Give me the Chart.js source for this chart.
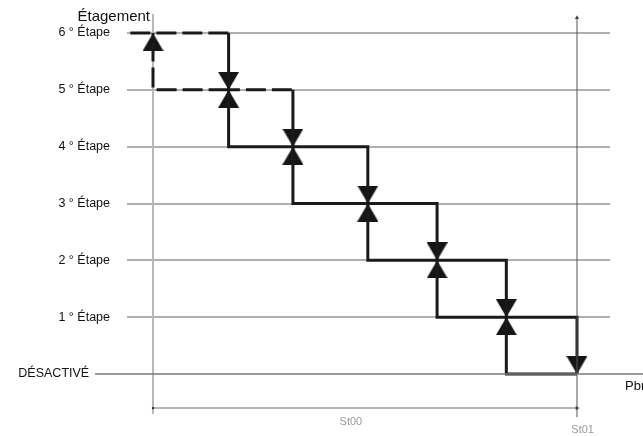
<!DOCTYPE html>
<html>
<head>
<meta charset="utf-8">
<script src="https://cdn.jsdelivr.net/npm/chart.js@4.4.0/dist/chart.umd.min.js"></script>
<style>
    html, body { margin: 0; padding: 0; background: #fff; }
    #wrap { width: 643px; height: 436px; }
</style>
</head>
<body>
<div id="wrap"><canvas id="Graph" width="643" height="436"></canvas></div>
<script>
// stage levels, bottom to top
const stepLabels = ['DÉSACTIVÉ', '1 ° Étape', '2 ° Étape', '3 ° Étape', '4 ° Étape', '5 ° Étape', '6 ° Étape'];
// pressure where each stage switches, from St00 (0) to St01 (6)
const switchPoints = [0, 1.07, 1.98, 3.04, 4.02, 5.0, 6.0];
const dashedStart = -0.32;
const axisTitle = 'Étagement';
const pressureTitle = 'Pbr';
const spanLabels = ['St00', 'St01'];

const FONT = '"Liberation Sans", Arial, sans-serif';
const topLevel = stepLabels.length - 1;

// stage going down as pressure rises
const downPath = [{ x: dashedStart, y: topLevel }];
for (let i = 1; i < switchPoints.length; i++) {
    downPath.push({ x: switchPoints[i], y: topLevel + 1 - i });
    downPath.push({ x: switchPoints[i], y: topLevel - i });
}
// stage going up as pressure drops
const upPath = [{ x: switchPoints[switchPoints.length - 1], y: 0 }];
for (let i = switchPoints.length - 2; i >= 0; i--) {
    upPath.push({ x: switchPoints[i], y: topLevel - 1 - i });
    upPath.push({ x: switchPoints[i], y: topLevel - i });
}
const downArrows = [];
const upArrows = [];
for (let i = 1; i < switchPoints.length; i++) {
    downArrows.push({ x: switchPoints[i], y: topLevel - i });
    upArrows.push({ x: switchPoints[i - 1], y: topLevel + 1 - i });
}

// arrow heads with the tip in the middle of the image
function makeArrow(down) {
    const w = 21, h = 18;
    const c = document.createElement('canvas');
    c.width = w;
    c.height = h * 2;
    const g = c.getContext('2d');
    g.fillStyle = '#151515';
    g.beginPath();
    if (down) {
        g.moveTo(0, 0); g.lineTo(w, 0); g.lineTo(w / 2, h);
    } else {
        g.moveTo(w / 2, h); g.lineTo(w, 2 * h); g.lineTo(0, 2 * h);
    }
    g.closePath();
    g.fill();
    return c;
}

const dashed = c => (c.p0.parsed.y >= topLevel - 1 && c.p1.parsed.y >= topLevel - 1) ? [20, 6] : undefined;

const textPlugin = {
    id: 'texts',
    afterDraw(chart) {
        const { ctx, scales: { x, y } } = chart;
        ctx.save();
        ctx.fillStyle = '#111';
        ctx.font = '15px ' + FONT;
        ctx.textAlign = 'right';
        ctx.fillText(axisTitle, x.getPixelForValue(0) - 3, y.getPixelForValue(topLevel) - 12);
        ctx.font = '13px ' + FONT;
        ctx.textAlign = 'left';
        ctx.fillText(pressureTitle, x.getPixelForValue(6) + 48, y.getPixelForValue(0) + 16);
        ctx.fillStyle = '#999';
        ctx.font = '11px ' + FONT;
        ctx.textAlign = 'center';
        ctx.fillText(spanLabels[0], x.getPixelForValue(2.8), y.bottom + 12);
        ctx.fillText(spanLabels[1], x.getPixelForValue(6.08), y.bottom + 20);
        ctx.restore();
    }
};

const ctx = document.getElementById('Graph').getContext('2d');
new Chart(ctx, {
    type: 'line',
    data: {
        datasets: [
            { // base line (DÉSACTIVÉ)
                data: [{ x: -0.82, y: 0 }, { x: 6.95, y: 0 }],
                borderColor: '#777', borderWidth: 1.5, pointRadius: 0, clip: false
            },
            { // St01 limit
                data: [{ x: 6, y: -0.76 }, { x: 6, y: 6.27 }],
                borderColor: '#555', borderWidth: 1, clip: false,
                pointRadius: [0, 2.5], pointStyle: 'triangle',
                pointBackgroundColor: '#444', pointBorderWidth: 0
            },
            { // St00 -> St01 span
                data: [{ x: 0, y: -0.6 }, { x: 6, y: -0.6 }],
                borderColor: '#b5b5b5', borderWidth: 2, clip: false,
                pointRadius: [1.5, 2.5], pointStyle: ['rect', 'triangle'], rotation: [0, 90],
                pointBackgroundColor: '#333', pointBorderWidth: 0
            },
            {
                data: downPath, clip: false,
                borderColor: '#1a1a1a', borderWidth: 3, pointRadius: 0,
                borderJoinStyle: 'miter', segment: { borderDash: dashed }
            },
            {
                data: upPath, clip: false,
                borderColor: '#1a1a1a', borderWidth: 3, pointRadius: 0,
                borderJoinStyle: 'miter', segment: { borderDash: dashed }
            },
            {
                data: downArrows, showLine: false, clip: false,
                pointStyle: makeArrow(true), pointRadius: 5
            },
            {
                data: upArrows, showLine: false, clip: false,
                pointStyle: makeArrow(false), pointRadius: 5
            }
        ]
    },
    options: {
        responsive: false,
        devicePixelRatio: 1,
        animation: false,
        events: [],
        layout: { padding: { top: 15, right: 33, bottom: 23, left: 0 } },
        plugins: {
            legend: { display: false },
            tooltip: { enabled: false }
        },
        scales: {
            x: {
                type: 'linear',
                display: false,
                min: 0,
                max: 6.467
            },
            y: {
                type: 'linear',
                min: -0.686,
                max: 6.317,
                afterBuildTicks: axis => {
                    axis.ticks = stepLabels.map((_, i) => ({ value: i }));
                },
                afterFit: axis => {
                    axis.width = 153;
                    axis.paddingTop = 0;
                    axis.paddingBottom = 0;
                },
                border: { display: true, color: '#b8b8b8', width: 2 },
                grid: {
                    color: c => c.tick && c.tick.value === 0 ? 'rgba(0,0,0,0)' : '#b0b0b0',
                    lineWidth: 2,
                    tickLength: 26
                },
                ticks: {
                    padding: 17,
                    color: '#111',
                    font: { family: FONT, size: 12.5 },
                    callback: v => v === 0 ? stepLabels[0] + '      ' : stepLabels[v]
                }
            }
        }
    },
    plugins: [textPlugin]
});
</script>
</body>
</html>
